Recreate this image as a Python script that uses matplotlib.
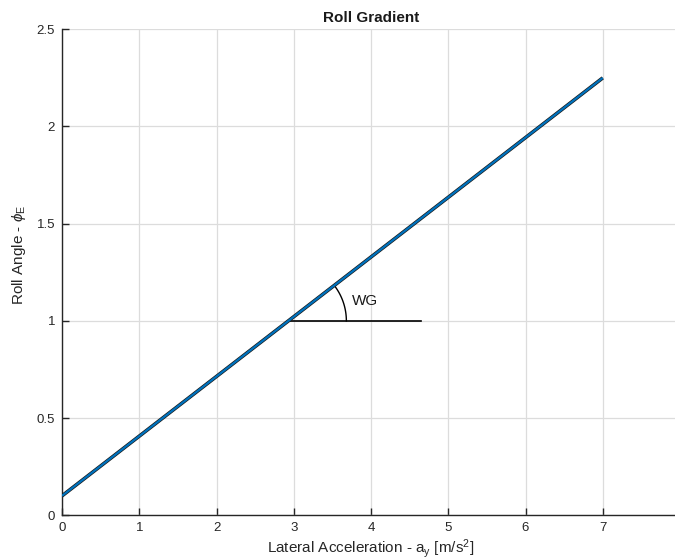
import numpy as np
import matplotlib
matplotlib.use("Agg")
import matplotlib.pyplot as plt

plt.rcParams['font.family'] = ['Liberation Sans', 'DejaVu Sans']
plt.rcParams['mathtext.fontset'] = 'custom'
plt.rcParams['mathtext.rm'] = 'Liberation Sans'
plt.rcParams['mathtext.it'] = 'Liberation Sans:italic'

# Roll angle vs lateral acceleration (end points of the fitted line)
lat_accel = [0.0, 7.0]
roll_angle = [0.1, 2.25]

x_ticks = [0, 1, 2, 3, 4, 5, 6, 7, 8]
y_ticks = [0, 0.5, 1, 1.5, 2, 2.5]
y_tick_labels = ['0', '0.5', '1', '1.5', '2', '2.5']

ref_level = 1.0          # level where the gradient angle is marked
ref_end = 4.65           # end of the horizontal reference segment
angle_label = 'WG'

fig = plt.figure(figsize=(6.75, 5.59), dpi=100)
ax = fig.add_axes([62 / 675, 1 - 515.3 / 559, 618 / 675, 486 / 559])

ax.set_xlim(0, 8)
ax.set_ylim(0, 2.5)
ax.set_xticks(x_ticks)
ax.set_xticklabels([str(t) for t in x_ticks])
ax.set_yticks(y_ticks)
ax.set_yticklabels(y_tick_labels)

ax.grid(True, color='#dcdcdc', linewidth=0.9)
ax.set_axisbelow(True)
for side in ('top', 'right'):
    ax.spines[side].set_visible(False)
for side in ('left', 'bottom'):
    ax.spines[side].set_color('#262626')
    ax.spines[side].set_linewidth(1.0)
ax.tick_params(direction='in', length=5, width=1.0, color='#262626',
               labelsize=9.5, labelcolor='#262626', pad=5)

# gradient line: dark outline with blue core
ax.plot(lat_accel, roll_angle, color='#1a1a1a', linewidth=2.6,
        solid_capstyle='butt', zorder=3)
ax.plot(lat_accel, roll_angle, color='#0072BD', linewidth=1.6,
        solid_capstyle='butt', zorder=4)

# angle marker: horizontal reference and arc at the crossing of y = ref_level
slope = (roll_angle[1] - roll_angle[0]) / (lat_accel[1] - lat_accel[0])
x0 = (ref_level - roll_angle[0]) / slope
ax.plot([x0, ref_end], [ref_level, ref_level], color='black', linewidth=1.2, zorder=2)

# arc drawn as a circle in screen space
px_per_x = 618 / 8
px_per_y = 486 / 2.5
r_px = 58
rx, ry = r_px / px_per_x, r_px / px_per_y
t_end = np.arctan(slope * px_per_y / px_per_x)
t = np.linspace(0, t_end, 60)
ax.plot(x0 + rx * np.cos(t), ref_level + ry * np.sin(t), color='black',
        linewidth=1.0, zorder=2)
ax.text(x0 + rx * 1.1, ref_level + 0.1, angle_label, fontsize=11,
        ha='left', va='center', color='#1a1a1a')

ax.set_title('Roll Gradient', fontsize=11, fontweight='bold', color='#1a1a1a', pad=5)
ax.set_xlabel(r'Lateral Acceleration - a$_\mathregular{y}$ [m/s$^\mathregular{2}$]',
              fontsize=11, color='#262626', labelpad=2)
ax.set_ylabel(r'Roll Angle - $\it{\phi}_\mathregular{E}$', fontsize=11,
              color='#262626')
ax.yaxis.set_label_coords(-0.055, 0.536)

fig.savefig('out.png', dpi=100)
